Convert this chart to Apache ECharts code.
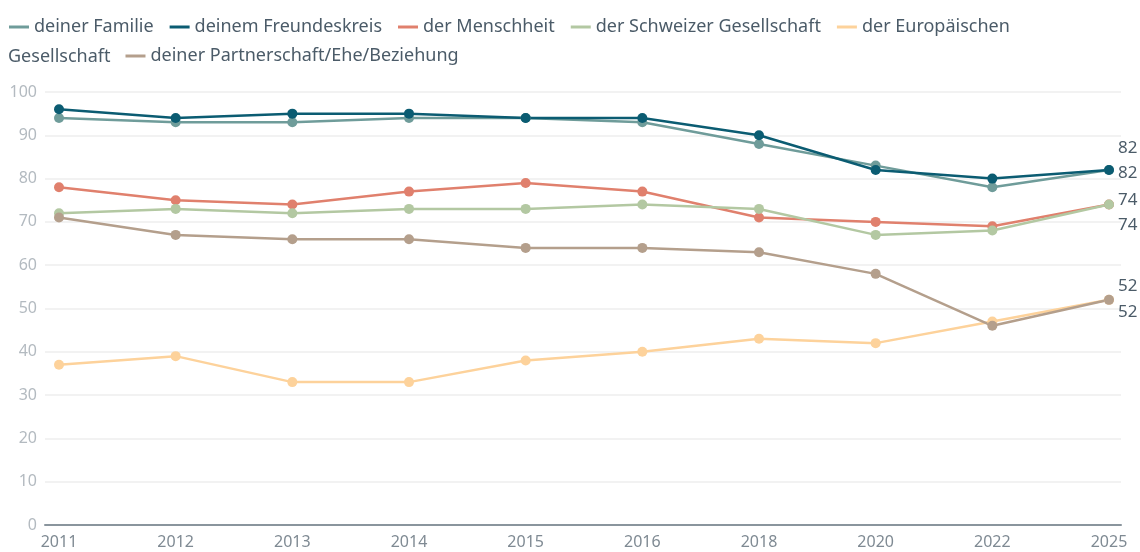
<!DOCTYPE html>
<html>
<head>
<meta charset="utf-8">
<script src="https://cdn.jsdelivr.net/npm/echarts@6/dist/echarts.min.js"></script>
<style>
  html, body { margin: 0; padding: 0; background: #fff; }
  #chart { width: 1140px; height: 552px; }
</style>
</head>
<body>
<div id="chart"></div>
<script>
// Jahre (gleichmässig verteilt wie im Original)
const years = ["2011", "2012", "2013", "2014", "2015", "2016", "2018", "2020", "2022", "2025"];

const familie = [94, 93, 93, 94, 94, 93, 88, 83, 78, 82];
const freundeskreis = [96, 94, 95, 95, 94, 94, 90, 82, 80, 82];
const menschheit = [78, 75, 74, 77, 79, 77, 71, 70, 69, 74];
const schweiz = [72, 73, 72, 73, 73, 74, 73, 67, 68, 74];
const europa = [37, 39, 33, 33, 38, 40, 43, 42, 47, 52];
const partnerschaft = [71, 67, 66, 66, 64, 64, 63, 58, 46, 52];

const yTicks = [0, 10, 20, 30, 40, 50, 60, 70, 80, 90, 100];

const FONT = "Noto Sans";
const TEXT = "#4b5b68";
const LEGEND_SIZE = 18;

// Reihen: Name, Daten, Farbe, Versatz des Endlabels
const rows = [
  ["deiner Familie", familie, "#6f9c9a", -22],
  ["deinem Freundeskreis", freundeskreis, "#0b5c72", 3],
  ["der Menschheit", menschheit, "#e0806d", -4],
  ["der Schweizer Gesellschaft", schweiz, "#b3c8a2", 21],
  ["der Europäischen Gesellschaft", europa, "#fdd29b", -14],
  ["deiner Partnerschaft/Ehe/Beziehung", partnerschaft, "#b49f8c", 12],
];

function textWidth(str, size) {
  const ctx = document.createElement("canvas").getContext("2d");
  ctx.font = size + "px '" + FONT + "'";
  return ctx.measureText(str).width;
}

const series = rows.map(function (r) {
  const data = r[1].map(function (v, i) {
    if (i === r[1].length - 1) {
      return {
        value: v,
        label: {
          show: true,
          position: "right",
          distance: 4,
          offset: [0, r[3]],
          color: TEXT,
          fontSize: 17,
          fontFamily: FONT,
        },
      };
    }
    return v;
  });
  return {
    name: r[0],
    type: "line",
    xAxisIndex: 1,
    yAxisIndex: 1,
    data: data,
    symbol: "circle",
    symbolSize: 10,
    itemStyle: { color: r[2] },
    lineStyle: { color: r[2], width: 2.5 },
    animation: false,
  };
});

const legendText = { color: TEXT, fontSize: LEGEND_SIZE, fontFamily: FONT };
const gesWidth = textWidth("Gesellschaft", LEGEND_SIZE);

let myChart = echarts.init(document.getElementById("chart"));
myChart.setOption({
  animation: false,
  legend: [
    {
      data: rows.slice(0, 5).map(function (r) { return r[0]; }),
      left: 4,
      top: 13,
      icon: "rect",
      itemWidth: 20,
      itemHeight: 3,
      itemGap: 16,
      textStyle: legendText,
      formatter: function (name) {
        return name === "der Europäischen Gesellschaft" ? "der Europäischen" : name;
      },
      selectedMode: false,
    },
    {
      data: [rows[5][0]],
      left: 8 + gesWidth + 10,
      top: 42,
      icon: "rect",
      itemWidth: 20,
      itemHeight: 3,
      textStyle: legendText,
      selectedMode: false,
    },
  ],
  graphic: [
    {
      type: "text",
      x: 8,
      y: 45,
      style: {
        text: "Gesellschaft",
        fill: TEXT,
        fontSize: LEGEND_SIZE,
        fontFamily: FONT,
        lineHeight: 24,
      },
    },
  ],
  grid: [
    { left: 45, right: 19, top: 92, bottom: 27 },
    { left: 59, right: 31, top: 92, bottom: 27 },
  ],
  xAxis: [
    {
      gridIndex: 0,
      type: "category",
      data: years,
      boundaryGap: false,
      axisLine: { lineStyle: { color: "#8a959d", width: 2 } },
      axisTick: { show: false },
      axisLabel: { show: false },
      splitLine: { show: false },
    },
    {
      gridIndex: 1,
      type: "category",
      data: years,
      boundaryGap: false,
      axisLine: { show: false },
      axisTick: { show: false },
      axisLabel: { color: "#7f8a93", fontSize: 16, fontFamily: FONT, margin: 9 },
      splitLine: { show: false },
    },
  ],
  yAxis: [
    {
      gridIndex: 0,
      type: "value",
      min: yTicks[0],
      max: yTicks[yTicks.length - 1],
      interval: 10,
      axisLine: { show: false },
      axisTick: { show: false },
      axisLabel: { color: "#b3bac0", fontSize: 16, fontFamily: FONT, margin: 8 },
      splitLine: { lineStyle: { color: "#eeeeee", width: 1.5 } },
    },
    {
      gridIndex: 1,
      type: "value",
      min: yTicks[0],
      max: yTicks[yTicks.length - 1],
      show: false,
      splitLine: { show: false },
    },
  ],
  series: series,
});
</script>
</body>
</html>
